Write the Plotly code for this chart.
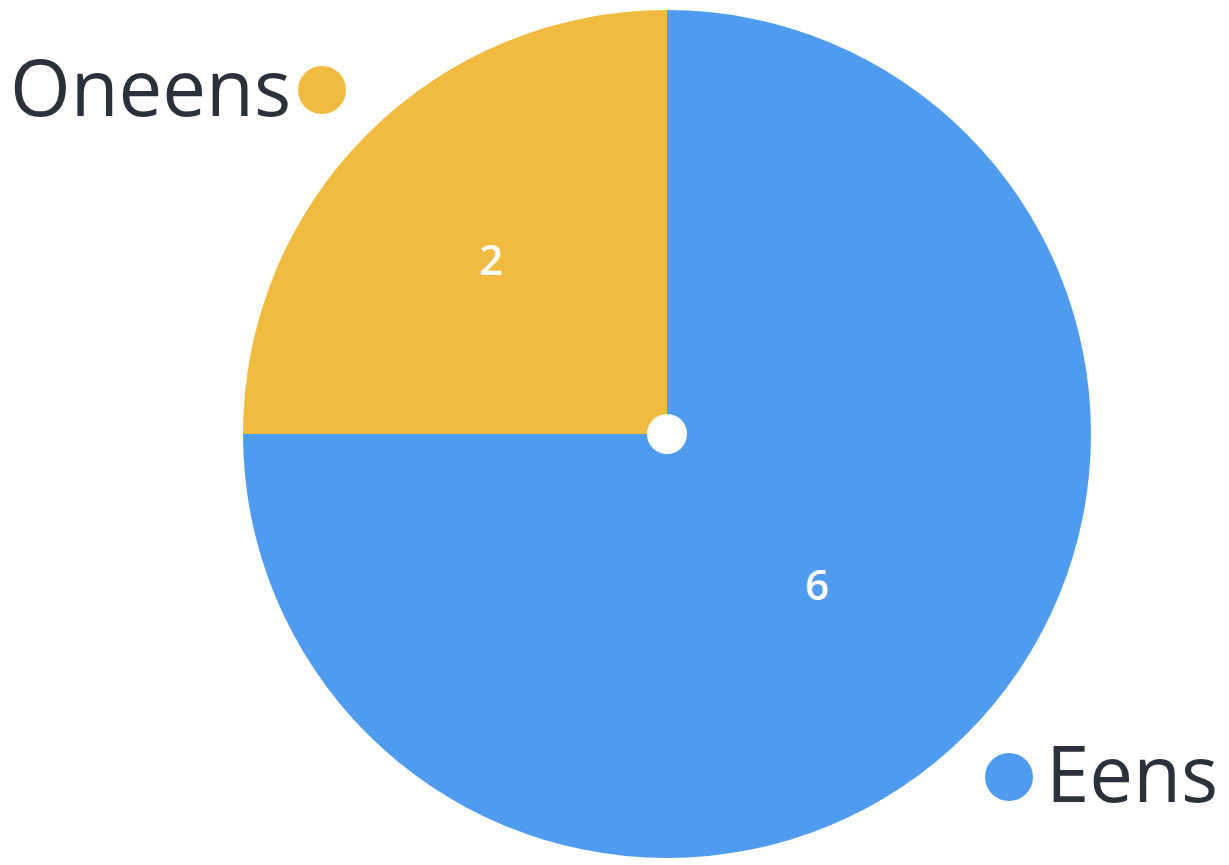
import plotly.graph_objects as go

labels = ["Eens", "Oneens"]
values = [6, 2]
colors = ["#4F9BF0", "#F1BB3F"]

W, H = 1229, 865
OFF = 8            # page body margin
T, B = 2, 15
PH = H - T - B     # plot height = 848
cx, cy, R = 667, 434, 424


def px(x):
    return (x - OFF) / W


def py(y):
    return 1 - (y - OFF - T) / PH


fig = go.Figure(go.Pie(
    labels=labels,
    values=values,
    sort=False,
    direction="clockwise",
    rotation=0,
    marker=dict(colors=colors, line=dict(width=0)),
    textinfo="value",
    textposition="inside",
    insidetextorientation="horizontal",
    textfont=dict(family="Open Sans", size=42, color="white", weight=600),
    domain=dict(x=[px(cx - R), px(cx + R)], y=[0, 1]),
    showlegend=False,
    hoverinfo="label+value",
))

text_color = "#2B313B"
font = dict(family="Open Sans", size=78, color=text_color, weight=500)

fig.add_annotation(x=px(293), y=py(86), xref="paper", yref="paper",
                   text=labels[1], showarrow=False, xanchor="right", yanchor="middle", font=font)
fig.add_annotation(x=px(1044), y=py(772), xref="paper", yref="paper",
                   text=labels[0], showarrow=False, xanchor="left", yanchor="middle", font=font)

# colored dots
r = 24
for (dx, dy), col in [((322, 90), colors[1]), ((1009, 777), colors[0])]:
    fig.add_shape(type="circle", xref="paper", yref="paper",
                  x0=px(dx - r), x1=px(dx + r), y0=py(dy + r), y1=py(dy - r),
                  fillcolor=col, line=dict(width=0))

# white center dot
r0 = 20
fig.add_shape(type="circle", xref="paper", yref="paper",
              x0=px(cx - r0), x1=px(cx + r0), y0=py(cy + r0), y1=py(cy - r0),
              fillcolor="white", line=dict(width=0), layer="above")

fig.update_layout(
    width=W, height=H,
    margin=dict(l=0, r=0, t=T, b=B),
    paper_bgcolor="white",
    plot_bgcolor="white",
)

fig.write_html("out.html")
